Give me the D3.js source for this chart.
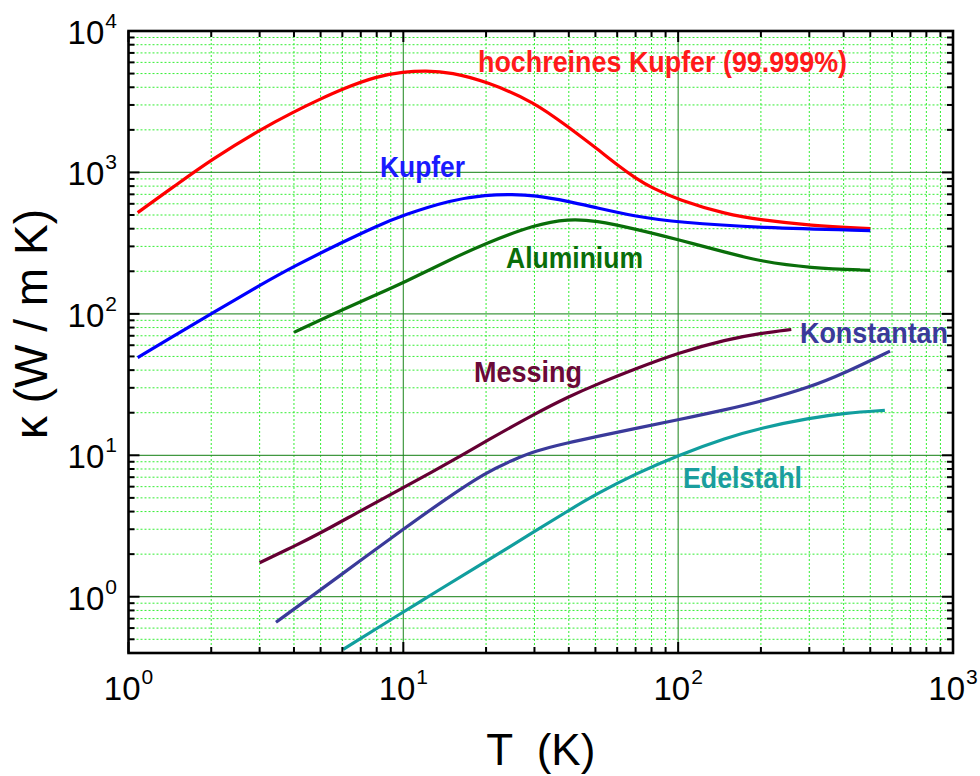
<!DOCTYPE html>
<html>
<head>
<meta charset="utf-8">
<script src="https://cdn.jsdelivr.net/npm/d3@7"></script>
<style>
  body { margin: 0; background: #fff; }
  svg { display: block; font-family: "Liberation Sans", Arial, sans-serif; }
</style>
</head>
<body>
<svg id="chart" width="980" height="776"></svg>
<script>
"use strict";

// Data: temperature T (K) and conductivity kappa (W / m K)
const seriesNames = ["hochreines Kupfer (99.999%)", "Kupfer", "Aluminium", "Messing", "Konstantan", "Edelstahl"];

const cuPureT = [1.08, 1.5, 2, 3, 4, 5, 6, 8, 10, 12, 15, 20, 30, 40, 50, 60, 70, 80, 100, 150, 200, 300, 500];
const cuPureK = [520, 824, 1230, 2000, 2690, 3310, 3890, 4790, 5130, 5250, 5100, 4400, 3150, 2080, 1500, 1130, 910, 780, 640, 505, 462, 422, 400];

const cuT = [1.08, 1.5, 2, 3, 4, 6, 8, 10, 15, 20, 25, 30, 40, 50, 70, 100, 200, 500];
const cuK = [49, 72, 100, 159, 217, 321, 417, 500, 640, 695, 700, 688, 625, 564, 488, 444, 405, 388];

const alT = [4, 5.56, 8, 10, 15, 20, 30, 40, 50, 70, 100, 150, 200, 300, 500];
const alK = [74, 100, 137, 166, 245, 316, 427, 470, 457, 398, 335, 271, 235, 211, 203];

const brassT = [3, 4, 5, 7, 10, 12.7, 16, 20, 30, 40, 50, 70, 100, 150, 200, 258];
const brassK = [1.74, 2.27, 2.82, 4.06, 5.9, 7.6, 9.8, 12.6, 19.6, 26, 31.5, 40.9, 53, 66, 73, 77.5];

const constT = [3.44, 4.5, 7, 10, 13.8, 20, 25.5, 30, 40, 50, 70, 100, 150, 200, 300, 407, 590];
const constK = [0.66, 0.964, 1.81, 3.0, 4.7, 7.6, 9.4, 10.7, 12.3, 13.5, 15.5, 17.8, 21.1, 24, 30.2, 38.5, 54.5];

const steelT = [6.04, 10, 12.7, 20, 30, 40, 50, 70, 100, 150, 200, 300, 407, 565];
const steelK = [0.425, 0.78, 1.04, 1.78, 2.89, 4.08, 5.28, 7.4, 10.0, 13.3, 15.6, 18.3, 19.9, 20.8];

const seriesT = [cuPureT, cuT, alT, brassT, constT, steelT];
const seriesK = [cuPureK, cuK, alK, brassK, constK, steelK];

// Axis ranges
const xDomain = [1, 1000];
const yDomain = [0.4, 10000];

// Styles and label placement
const lineColors = ["#ff0000", "#0000ff", "#0a6e0a", "#650033", "#3a3a9a", "#119e9e"];
const labelColors = ["#ff1a1a", "#1a1aff", "#0a6e0a", "#6a0a38", "#3a3a9a", "#1a9e9e"];
const labelPos = [[478, 72], [380, 177], [506, 268], [474, 382], [800, 343], [683, 488]];
const labelWidth = [369, 85, 137, 108, 148, 119];

const margin = {left: 128.5, right: 953, top: 31, bottom: 653};

const svg = d3.select("#chart");

const x = d3.scaleLog().domain(xDomain).range([margin.left, margin.right]);
const y = d3.scaleLog().domain(yDomain).range([margin.bottom, margin.top]);

const isMajor = v => Math.abs(Math.log10(v) - Math.round(Math.log10(v))) < 1e-9;

const xTicks = x.ticks().filter(v => v >= xDomain[0] && v <= xDomain[1]);
const yTicks = y.ticks().filter(v => v >= yDomain[0] && v <= yDomain[1]);

// Minor grid (dotted)
const grid = svg.append("g");

grid.selectAll(".xminor")
    .data(xTicks.filter(v => !isMajor(v)))
  .enter().append("line")
    .attr("x1", d => x(d)).attr("x2", d => x(d))
    .attr("y1", margin.top).attr("y2", margin.bottom)
    .attr("stroke", "#33ee33")
    .attr("stroke-width", 1)
    .attr("stroke-dasharray", "2,2");

grid.selectAll(".yminor")
    .data(yTicks.filter(v => !isMajor(v)))
  .enter().append("line")
    .attr("y1", d => y(d)).attr("y2", d => y(d))
    .attr("x1", margin.left).attr("x2", margin.right)
    .attr("stroke", "#33ee33")
    .attr("stroke-width", 1)
    .attr("stroke-dasharray", "2,2");

// Major grid (solid)
grid.selectAll(".xmajor")
    .data(xTicks.filter(v => isMajor(v) && v > xDomain[0] && v < xDomain[1]))
  .enter().append("line")
    .attr("x1", d => x(d)).attr("x2", d => x(d))
    .attr("y1", margin.top).attr("y2", margin.bottom)
    .attr("stroke", "#1f861f")
    .attr("stroke-opacity", 0.85)
    .attr("stroke-width", 1.2);

grid.selectAll(".ymajor")
    .data(yTicks.filter(v => isMajor(v) && v < yDomain[1]))
  .enter().append("line")
    .attr("y1", d => y(d)).attr("y2", d => y(d))
    .attr("x1", margin.left).attr("x2", margin.right)
    .attr("stroke", "#1f861f")
    .attr("stroke-opacity", 0.85)
    .attr("stroke-width", 1.2);

// Curves
svg.append("clipPath").attr("id", "plotClip")
  .append("rect")
    .attr("x", margin.left).attr("y", margin.top)
    .attr("width", margin.right - margin.left)
    .attr("height", margin.bottom - margin.top);

const line = d3.line()
    .x(d => x(d[0]))
    .y(d => y(d[1]))
    .curve(d3.curveBasis);

svg.append("g").attr("clip-path", "url(#plotClip)")
  .selectAll("path")
    .data(seriesNames.map((name, i) => seriesT[i].map((t, j) => [t, seriesK[i][j]])))
  .enter().append("path")
    .attr("d", line)
    .attr("fill", "none")
    .attr("stroke", (d, i) => lineColors[i])
    .attr("stroke-width", 3.2);

// Series labels
svg.append("g").selectAll("text")
    .data(seriesNames)
  .enter().append("text")
    .attr("x", (d, i) => labelPos[i][0])
    .attr("y", (d, i) => labelPos[i][1])
    .attr("fill", (d, i) => labelColors[i])
    .attr("font-size", 29)
    .attr("font-weight", "bold")
    .attr("textLength", (d, i) => labelWidth[i])
    .attr("lengthAdjust", "spacingAndGlyphs")
    .text(d => d);

// Ticks on all four sides, pointing inward
const ticks = svg.append("g").attr("stroke", "#000").attr("stroke-width", 2);
const tickLen = v => isMajor(v) ? 11 : 6;

ticks.selectAll(".xb").data(xTicks).enter().append("line")
    .attr("x1", d => x(d)).attr("x2", d => x(d))
    .attr("y1", margin.bottom).attr("y2", d => margin.bottom - tickLen(d));
ticks.selectAll(".xt").data(xTicks).enter().append("line")
    .attr("x1", d => x(d)).attr("x2", d => x(d))
    .attr("y1", margin.top).attr("y2", d => margin.top + tickLen(d));
ticks.selectAll(".yl").data(yTicks).enter().append("line")
    .attr("y1", d => y(d)).attr("y2", d => y(d))
    .attr("x1", margin.left).attr("x2", d => margin.left + tickLen(d));
ticks.selectAll(".yr").data(yTicks).enter().append("line")
    .attr("y1", d => y(d)).attr("y2", d => y(d))
    .attr("x1", margin.right).attr("x2", d => margin.right - tickLen(d));

// Frame
svg.append("rect")
    .attr("x", margin.left).attr("y", margin.top)
    .attr("width", margin.right - margin.left)
    .attr("height", margin.bottom - margin.top)
    .attr("fill", "none")
    .attr("stroke", "#000")
    .attr("stroke-width", 2.6);

// Tick labels (10^n)
function powerLabel(sel) {
  sel.append("tspan").text("10");
  sel.append("tspan")
      .text(d => Math.round(Math.log10(d)))
      .attr("font-size", 21)
      .attr("dx", 1)
      .attr("dy", -16);
}

svg.append("g").selectAll("text")
    .data(xTicks.filter(isMajor))
  .enter().append("text")
    .attr("x", d => x(d))
    .attr("y", margin.bottom + 47)
    .attr("text-anchor", "middle")
    .attr("font-size", 33)
    .call(powerLabel);

svg.append("g").selectAll("text")
    .data(yTicks.filter(isMajor))
  .enter().append("text")
    .attr("x", 117)
    .attr("y", d => y(d) + 13)
    .attr("text-anchor", "end")
    .attr("font-size", 33)
    .call(powerLabel);

// Axis titles
svg.append("text")
    .attr("x", (margin.left + margin.right) / 2)
    .attr("y", 765)
    .attr("text-anchor", "middle")
    .attr("font-size", 44)
    .style("white-space", "pre")
    .text("T  (K)");

svg.append("text")
    .attr("transform", "translate(47,324) rotate(-90)")
    .attr("text-anchor", "middle")
    .attr("font-size", 46)
    .text("κ (W / m K)");
</script>
</body>
</html>
